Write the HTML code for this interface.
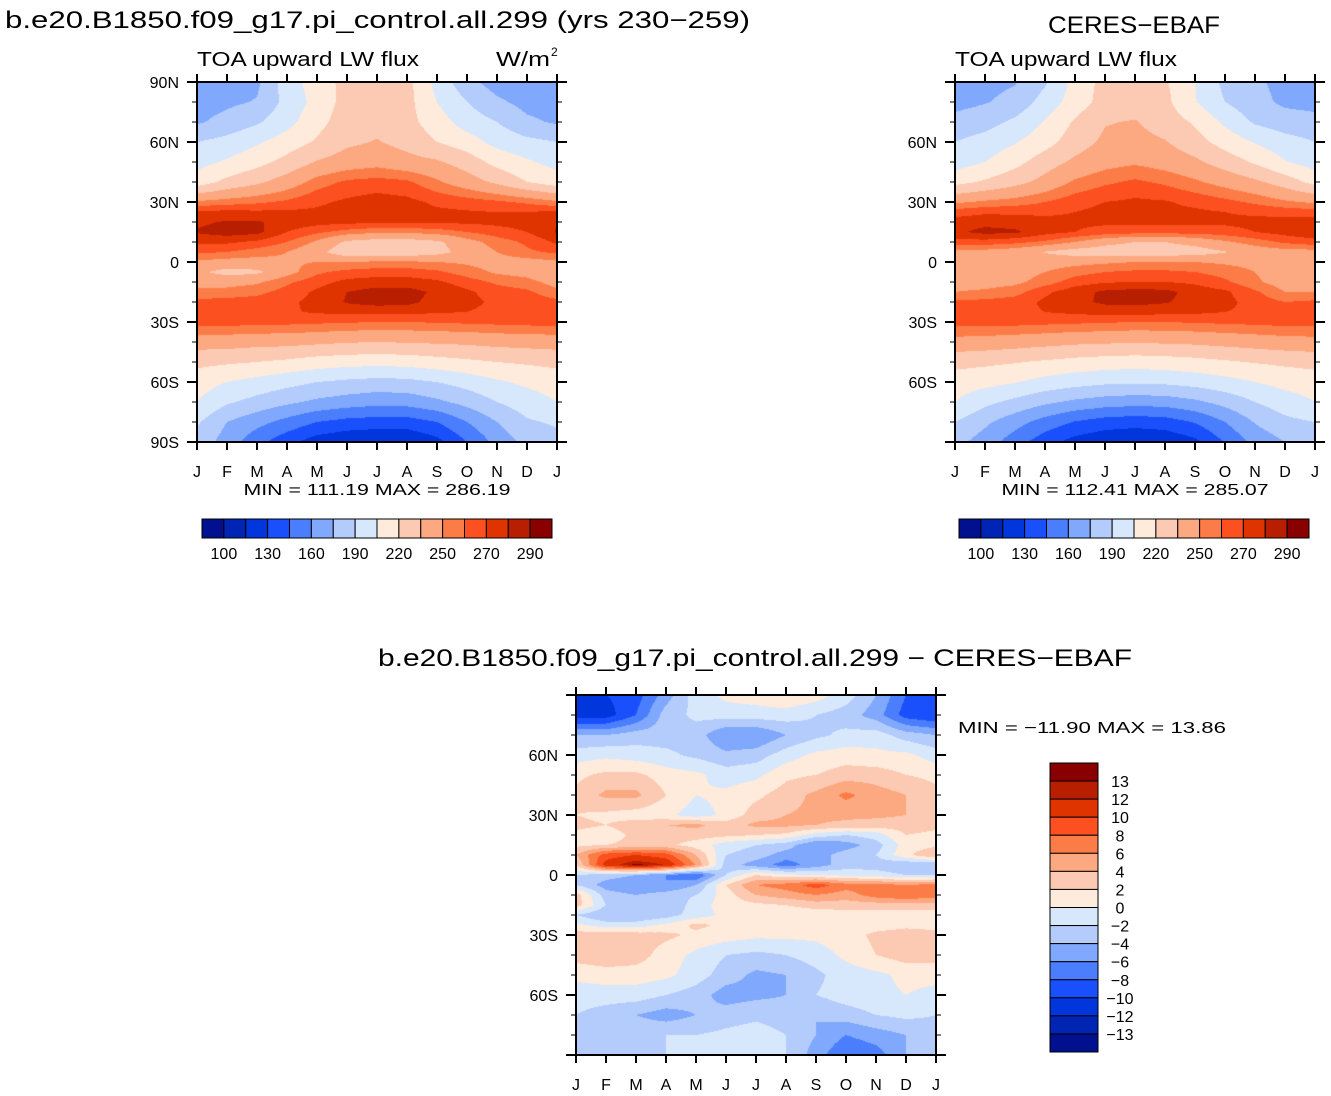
<!DOCTYPE html>
<html><head><meta charset="utf-8">
<style>
html,body{margin:0;padding:0;background:#fff;width:1331px;height:1096px;overflow:hidden;position:relative}
canvas{position:absolute}
svg{position:absolute;left:0;top:0}
text{font-family:"Liberation Sans",sans-serif;fill:#000}
</style></head>
<body>
<canvas id="c1" width="360" height="360" style="left:197px;top:82px"></canvas>
<canvas id="c2" width="360" height="360" style="left:955px;top:82px"></canvas>
<canvas id="c3" width="360" height="360" style="left:576px;top:695px"></canvas>
<svg id="ov" width="1331" height="1096">
<text x="5" y="28" font-size="24" textLength="745" lengthAdjust="spacingAndGlyphs">b.e20.B1850.f09_g17.pi_control.all.299 (yrs 230−259)</text>
<text x="1048" y="33" font-size="24" textLength="172" lengthAdjust="spacingAndGlyphs">CERES−EBAF</text>
<text x="197" y="66" font-size="20" textLength="222" lengthAdjust="spacingAndGlyphs">TOA upward LW flux</text>
<text x="496" y="66" font-size="20" textLength="54" lengthAdjust="spacingAndGlyphs">W/m</text>
<text x="551" y="56" font-size="12">2</text>
<text x="955" y="66" font-size="20" textLength="222" lengthAdjust="spacingAndGlyphs">TOA upward LW flux</text>
<text x="377" y="495" font-size="16" text-anchor="middle" textLength="267" lengthAdjust="spacingAndGlyphs">MIN =  111.19  MAX =  286.19</text>
<text x="1135" y="495" font-size="16" text-anchor="middle" textLength="267" lengthAdjust="spacingAndGlyphs">MIN =  112.41  MAX =  285.07</text>
<text x="378" y="666" font-size="24" textLength="754" lengthAdjust="spacingAndGlyphs">b.e20.B1850.f09_g17.pi_control.all.299 − CERES−EBAF</text>
<text x="958" y="733" font-size="16" textLength="268" lengthAdjust="spacingAndGlyphs">MIN = −11.90 MAX =   13.86</text>
</svg>
<script>
// ---------- data ----------
const months = ["J","F","M","A","M","J","J","A","S","O","N","D","J"];
const lats = [90,80,70,60,50,40,30,25,20,15,10,5,0,-5,-10,-15,-20,-25,-30,-40,-50,-60,-70,-80,-90];
const fluxLevels = [100,115,130,145,160,175,190,205,220,235,250,260,270,280,290];
const fluxLabels = ["100","130","160","190","220","250","270","290"];
const diffLevels = [-13,-12,-10,-8,-6,-4,-2,0,2,4,6,8,10,12,13];
const diffLabels = ["13","12","10","8","6","4","2","0","−2","−4","−6","−8","−10","−12","−13"];
const palette = ["#00108e","#0024b4","#0036dc","#1a50fc","#4a7efc","#80a8fc","#b4ccfc","#d8e8fc","#feebdc","#fccab2","#fca880","#fc7c48","#fc5020","#e03400","#b81e00","#880000"];
const modelFlux = [
[165,168,172,198,212,225,228,225,200,180,168,165,165],
[168,172,176,195,210,226,228,225,205,190,178,170,168],
[173,180,188,200,215,228,230,225,212,198,190,178,173],
[190,195,203,212,222,232,236,230,220,212,200,194,190],
[200,207,215,225,236,242,245,240,237,228,215,207,200],
[212,224,232,242,255,262,264,262,252,242,232,220,212],
[252,255,258,262,268,272,275,273,268,265,262,258,252],
[272,273,272,272,272,274,275,274,272,271,270,270,272],
[278,281,281,277,274,273,272,272,272,272,273,275,278],
[281,285,283,270,262,256,252,252,255,260,265,270,281],
[272,272,268,260,248,232,228,228,232,245,255,262,272],
[262,260,255,250,240,224,222,224,230,240,250,258,262],
[248,245,245,248,250,250,252,252,250,248,245,245,248],
[238,230,232,245,258,263,265,265,262,255,248,245,238],
[245,245,248,258,266,273,275,275,272,265,258,254,245],
[253,254,257,264,272,280,284,284,278,272,265,262,253],
[263,264,265,268,273,281,284,283,276,273,268,266,263],
[266,266,267,269,271,273,273,273,271,270,267,266,266],
[264,264,264,263,262,261,260,260,261,262,263,264,264],
[242,242,240,240,238,236,235,236,237,238,240,241,242],
[224,222,220,217,213,211,210,211,214,217,220,222,224],
[212,205,200,195,190,187,185,186,190,196,203,208,212],
[205,192,185,178,172,168,165,166,172,180,190,198,205],
[192,175,165,155,145,140,138,138,145,160,175,188,192],
[185,168,150,135,122,117,115,115,125,145,165,180,185]];
const ceresFlux = [
[167,170,174,188,210,225,228,222,205,186,178,170,167],
[170,174,180,196,212,226,228,224,206,190,180,172,170],
[180,184,193,206,222,234,236,228,218,202,188,182,180],
[190,196,204,214,228,238,240,236,226,214,204,196,190],
[198,205,215,228,238,245,248,244,238,228,218,206,198],
[215,222,230,240,252,258,262,258,252,245,238,228,215],
[248,252,255,260,266,270,272,271,267,263,258,252,248],
[265,268,268,268,270,273,274,273,272,270,268,266,265],
[275,277,275,273,272,272,272,272,272,272,273,274,275],
[278,283,282,274,270,266,264,264,264,266,270,274,278],
[266,266,263,258,250,240,235,235,240,248,255,262,266],
[245,245,242,234,228,226,225,226,228,234,242,245,245],
[242,242,242,244,246,248,250,250,250,248,246,244,242],
[242,242,244,250,256,260,262,262,260,256,250,244,242],
[245,245,247,255,265,269,270,270,268,262,252,244,245],
[250,252,256,268,276,282,284,283,276,272,262,250,250],
[262,263,265,272,277,282,283,281,276,273,266,260,262],
[265,266,267,270,272,274,274,273,272,270,268,266,265],
[264,264,264,263,262,261,260,260,261,262,263,264,264],
[245,244,242,240,238,237,236,237,238,240,242,244,245],
[225,223,221,218,215,213,212,213,215,218,221,223,225],
[212,210,206,200,196,193,192,193,196,200,205,210,212],
[205,194,186,178,172,168,166,167,172,180,190,198,205],
[190,178,166,154,144,138,136,138,146,160,176,186,190],
[180,168,152,136,124,118,116,118,126,146,165,175,180]];
const diffFlux = [
[-10,-10,-9,-5,-1,0.5,1,2,1,-1,-4,-8,-10],
[-11,-11,-8,-3,-1.5,-1,-1,-1,-2,-3,-5,-9,-10],
[-4,-4,-3,-3,-3,-6,-6,-4,-2.5,-1.5,-1,-3,-4],
[-1,-0.5,-1,-1.5,-2.5,-3.5,-3,-1,0.5,1,0.5,0.5,-1],
[1.5,2.5,2.5,1,0.5,-1,-0.5,1.5,2,3,3,2,1.5],
[2.5,4.5,4.5,2,0,0.5,1.5,3,4.5,6.5,5,4,2.5],
[2,1.5,1,0.5,-1,0.5,3,4,4.5,4.5,4.5,4,2],
[2.5,2,3,4,4.5,3,4.5,4.5,4,3.5,3,3,2.5],
[1.5,1,2.5,3,3,2.5,2,1.5,-1,-2,-1,2,1.5],
[1.5,2,2.5,2.5,1,-1,-2,-3,-6,-5,-3,1,1.5],
[4,9,10,9,4,-2,-3,-5,-5,-3,-2,1.5,4],
[2,11,13.5,12,6,-3,-5,-7,-5,-3,-3,-4,-4],
[-2,-3,-4,-6,-8,-2,2,0.5,0,-0.5,-1,-2,-2],
[-2,-5,-6,-6,-4,2,6,7,9,7,7,6,7],
[3,-3,-4,-3,-2,1,4,5,6,5,7,8,7],
[3,-2,-3,-4,-1,1,1.5,2,3,3,3,3,3],
[-2,-4,-4,-3,-1,0.5,0.5,0.5,0.5,1,1,1,1],
[0.5,-1,-1,0.5,2.5,1.5,1,1,1,1,1,1.5,1],
[3,3,3,2.5,1.5,1,0.5,0.5,0.5,1,2.5,3,3],
[3,3.5,3,1,-0.5,-2,-2.5,-2,-1,0.5,2,3,3],
[0.5,1,1,0.5,-1,-3,-4.5,-4,-2.5,-1,-0.5,0.5,0.5],
[-1,-1,-1,-2,-3,-5,-4.5,-4,-2,-1,-0.5,0,-0.5],
[-2,-3,-4,-5,-4,-3,-2.5,-3,-4,-3,-2,-1.5,-2],
[-3,-3,-2.5,-2,-2,-1.5,-1,-2,-4,-6,-5,-4,-3],
[-4,-3,-2.5,-2,-2,-1.5,-1,-2,-5,-8,-7,-4,-4]];

// ---------- rendering ----------
const NS = "http://www.w3.org/2000/svg";
const ov = document.getElementById("ov");
const SIZE = 360;
function xScale(m){ return m / (months.length - 1) * SIZE; }
function yScale(lat){ return (90 - lat) / 180 * SIZE; }
function colorFor(v, levels){ let k = 0; while (k < levels.length && v >= levels[k]) k++; return palette[k]; }
function sample(grid, month, lat){
  let i = Math.min(Math.floor(month), months.length - 2); let fx = month - i;
  let j = 0; while (j < lats.length - 2 && lat < lats[j+1]) j++;
  let fy = (lats[j] - lat) / (lats[j] - lats[j+1]);
  fx = Math.max(0, Math.min(1, fx)); fy = Math.max(0, Math.min(1, fy));
  const a = grid[j][i], b = grid[j][i+1], c = grid[j+1][i], d = grid[j+1][i+1];
  return (a*(1-fx) + b*fx) * (1-fy) + (c*(1-fx) + d*fx) * fy;
}
function drawField(id, grid, levels){
  const ctx = document.getElementById(id).getContext("2d");
  for (let py = 0; py < SIZE; py++){
    const lat = 90 - (py + 0.5) / SIZE * 180;
    for (let px = 0; px < SIZE; px++){
      const m = (px + 0.5) / SIZE * (months.length - 1);
      ctx.fillStyle = colorFor(sample(grid, m, lat), levels);
      ctx.fillRect(px, py, 1, 1);
    }
  }
}
function mk(tag, attrs){ const e = document.createElementNS(NS, tag); for (const k in attrs) e.setAttribute(k, attrs[k]); ov.appendChild(e); return e; }
function drawAxes(ox, oy, latLabels, prefix){
  const fr = mk("rect", {x: ox, y: oy, width: SIZE, height: SIZE, fill: "none", stroke: "#000", "stroke-width": 2});
  
  
  months.forEach((mn, i) => {
    const x = ox + xScale(i);
    mk("line", {x1: x, y1: oy - 8, x2: x, y2: oy, stroke: "#000", "stroke-width": 2});
    mk("line", {x1: x, y1: oy + SIZE, x2: x, y2: oy + SIZE + 8, stroke: "#000", "stroke-width": 2});
    const t = mk("text", {x: x, y: oy + SIZE + 35, "font-size": 16, "text-anchor": "middle"});
    t.textContent = mn;
    
    
  });
  for (let lat = 90; lat >= -90; lat -= 10){
    const y = oy + yScale(lat); const major = lat % 30 === 0; const L = major ? 10 : 5;
    mk("line", {x1: ox - L, y1: y, x2: ox, y2: y, stroke: "#000", "stroke-width": major ? 2 : 1});
    mk("line", {x1: ox + SIZE, y1: y, x2: ox + SIZE + L, y2: y, stroke: "#000", "stroke-width": major ? 2 : 1});
  }
  latLabels.forEach(lab => {
    const t = mk("text", {x: ox - 18, y: oy + yScale(lab.v) + 6, "font-size": 16, "text-anchor": "end"});
    t.textContent = lab.s;
    
    
  });
}
function hBar(x0, y0, prefix){
  const w = 350 / palette.length;
  palette.forEach((c, k) => {
    const r = mk("rect", {x: x0 + k*w, y: y0, width: w, height: 19, fill: c, stroke: "#000", "stroke-width": 1});
    
    
  });
  fluxLabels.forEach((s, i) => {
    const t = mk("text", {x: x0 + (2*i + 1) * w, y: y0 + 40, "font-size": 16, "text-anchor": "middle"});
    t.textContent = s;
    
    
  });
}
function vBar(x0, y0){
  const h = 289 / palette.length;
  palette.slice().reverse().forEach((c, k) => {
    const r = mk("rect", {x: x0, y: y0 + k*h, width: 48, height: h, fill: c, stroke: "#000", "stroke-width": 1});
    
    
  });
  diffLabels.forEach((s, i) => {
    const t = mk("text", {x: x0 + 70, y: y0 + (i + 1) * h + 6, "font-size": 16, "text-anchor": "middle"});
    t.textContent = s;
    
    
  });
}
drawField("c1", modelFlux, fluxLevels);
drawField("c2", ceresFlux, fluxLevels);
drawField("c3", diffFlux, diffLevels);
const full = [{v:90,s:"90N"},{v:60,s:"60N"},{v:30,s:"30N"},{v:0,s:"0"},{v:-30,s:"30S"},{v:-60,s:"60S"},{v:-90,s:"90S"}];
const inner = [{v:60,s:"60N"},{v:30,s:"30N"},{v:0,s:"0"},{v:-30,s:"30S"},{v:-60,s:"60S"}];
drawAxes(197, 82, full, "model");
drawAxes(955, 82, inner, "ceres");
drawAxes(576, 695, inner, "difference");
hBar(202, 519, "model");
hBar(959, 519, "ceres");
vBar(1050, 763);
</script>
</body></html>
